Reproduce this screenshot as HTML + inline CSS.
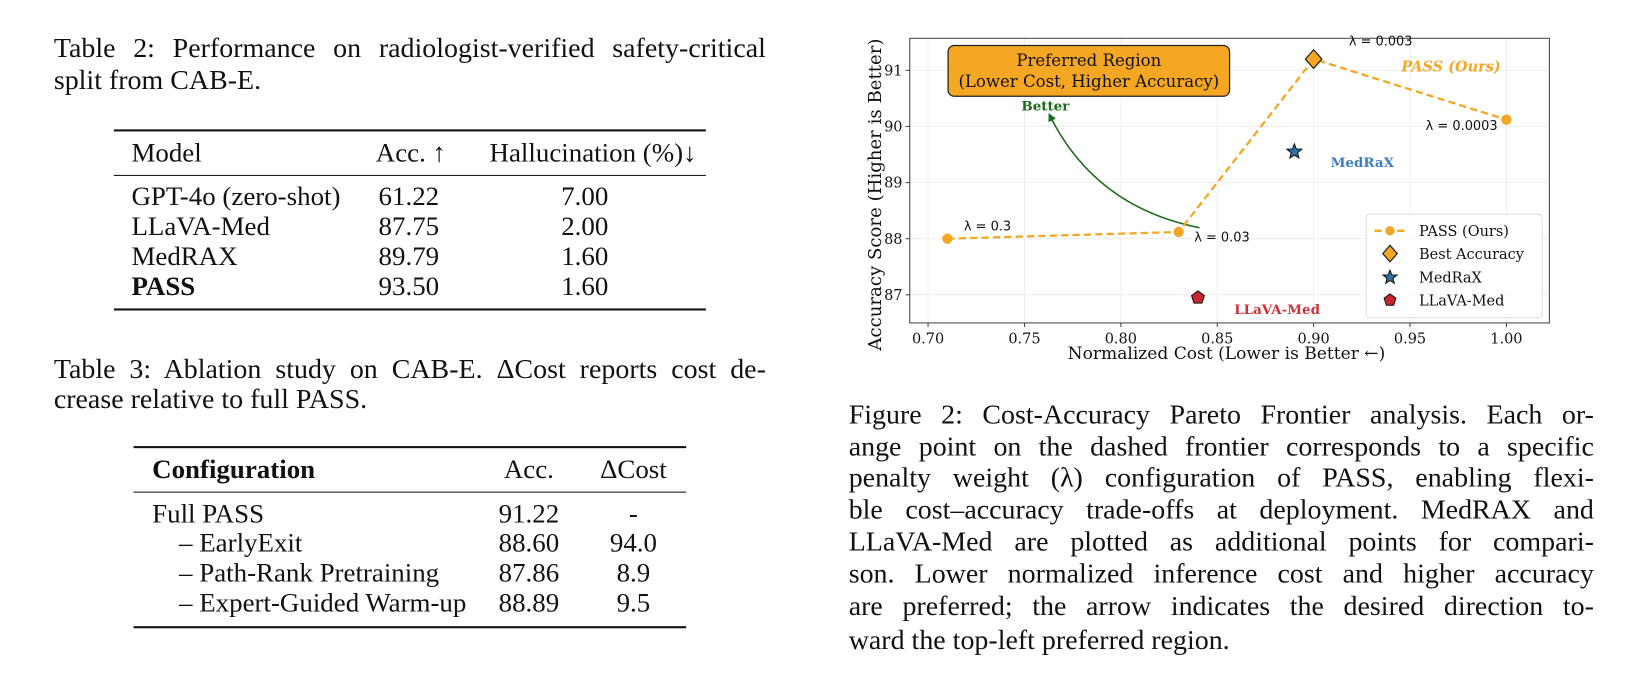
<!DOCTYPE html>
<html><head><meta charset="utf-8">
<style>
html,body{margin:0;padding:0;background:#fff;width:1625px;height:691px;overflow:hidden}
#wrap{position:absolute;left:0;top:0;width:1570px;height:668px;transform:scale(1.035);transform-origin:0 0;font-family:"Liberation Serif",serif;color:#111}
.t{position:absolute;font-size:27px;line-height:30px;white-space:nowrap}
.j{position:absolute;font-size:27px;line-height:30px;text-align:justify;text-align-last:justify;white-space:nowrap}
.rule{position:absolute;background:#111}
.c{position:absolute;font-size:26px;line-height:28px;white-space:nowrap;transform:translateX(-50%)}
.l{position:absolute;font-size:26px;line-height:28px;white-space:nowrap}
svg text{white-space:pre}
</style></head><body>
<div id="wrap">

<div class="j" style="left:52px;top:31px;width:688px">Table 2: Performance on radiologist-verified safety-critical</div>
<div class="t" style="left:52px;top:62px">split from CAB-E.</div>

<div>
<div class="rule" style="left:110px;top:125px;width:572px;height:2px"></div>
<div class="l" style="left:127px;top:134px">Model</div>
<div class="c" style="left:397px;top:134px">Acc. ↑</div>
<div class="c" style="left:573px;top:134px">Hallucination (%)↓</div>
<div class="rule" style="left:110px;top:169px;width:572px;height:1px"></div>
<div class="l" style="left:127px;top:176px">GPT-4o (zero-shot)</div><div class="c" style="left:395px;top:176px">61.22</div><div class="c" style="left:565px;top:176px">7.00</div>
<div class="l" style="left:127px;top:205px">LLaVA-Med</div><div class="c" style="left:395px;top:205px">87.75</div><div class="c" style="left:565px;top:205px">2.00</div>
<div class="l" style="left:127px;top:234px">MedRAX</div><div class="c" style="left:395px;top:234px">89.79</div><div class="c" style="left:565px;top:234px">1.60</div>
<div class="l" style="left:127px;top:263px;font-weight:bold">PASS</div><div class="c" style="left:395px;top:263px">93.50</div><div class="c" style="left:565px;top:263px">1.60</div>
<div class="rule" style="left:110px;top:298px;width:572px;height:2px"></div>
</div>

<div class="j" style="left:52px;top:341px;width:688px">Table 3: Ablation study on CAB-E. ΔCost reports cost de-</div>
<div class="t" style="left:52px;top:370px">crease relative to full PASS.</div>

<div>
<div class="rule" style="left:129px;top:431px;width:534px;height:2px"></div>
<div class="l" style="left:147px;top:440px;font-weight:bold">Configuration</div>
<div class="c" style="left:511px;top:440px">Acc.</div>
<div class="c" style="left:612px;top:440px">ΔCost</div>
<div class="rule" style="left:129px;top:475px;width:534px;height:1px"></div>
<div class="l" style="left:147px;top:483px">Full PASS</div><div class="c" style="left:511px;top:483px">91.22</div><div class="c" style="left:612px;top:483px">-</div>
<div class="l" style="left:173px;top:511px">– EarlyExit</div><div class="c" style="left:511px;top:511px">88.60</div><div class="c" style="left:612px;top:511px">94.0</div>
<div class="l" style="left:173px;top:540px">– Path-Rank Pretraining</div><div class="c" style="left:511px;top:540px">87.86</div><div class="c" style="left:612px;top:540px">8.9</div>
<div class="l" style="left:173px;top:569px">– Expert-Guided Warm-up</div><div class="c" style="left:511px;top:569px">88.89</div><div class="c" style="left:612px;top:569px">9.5</div>
<div class="rule" style="left:129px;top:605px;width:534px;height:2px"></div>
</div>

<div>
<div class="j" style="left:820px;top:385px;width:720px">Figure 2: Cost-Accuracy Pareto Frontier analysis. Each or-</div>
<div class="j" style="left:820px;top:416px;width:720px">ange point on the dashed frontier corresponds to a specific</div>
<div class="j" style="left:820px;top:446px;width:720px">penalty weight (λ) configuration of PASS, enabling flexi-</div>
<div class="j" style="left:820px;top:477px;width:720px">ble cost–accuracy trade-offs at deployment. MedRAX and</div>
<div class="j" style="left:820px;top:508px;width:720px">LLaVA-Med are plotted as additional points for compari-</div>
<div class="j" style="left:820px;top:539px;width:720px">son. Lower normalized inference cost and higher accuracy</div>
<div class="j" style="left:820px;top:570px;width:720px">are preferred; the arrow indicates the desired direction to-</div>
<div class="t" style="left:820px;top:603px">ward the top-left preferred region.</div>
</div>

<svg id="chart" style="position:absolute;left:0;top:0" width="1570" height="668"></svg>
</div>

<script>
const passCost = [0.71, 0.83, 0.90, 1.00];
const passAcc = [88.0, 88.12, 91.2, 90.12];
const passLambda = ["0.3", "0.03", "0.003", "0.0003"];
const medraxPoint = [0.89, 89.55];
const llavaPoint = [0.84, 86.95];
const xTicks = [0.70, 0.75, 0.80, 0.85, 0.90, 0.95, 1.00];
const yTicks = [87, 88, 89, 90, 91];

const NS = "http://www.w3.org/2000/svg";
const svg = document.getElementById('chart');
const L = 879, R = 1497, T = 37, B = 312;
const xMin = 0.6905, xMax = 1.0223, yMin = 86.5, yMax = 91.57;
function xs(v){ return L + (v - xMin) / (xMax - xMin) * (R - L); }
function ys(v){ return B - (v - yMin) / (yMax - yMin) * (B - T); }
function mk(tag, attrs, parent){
  const e = document.createElementNS(NS, tag);
  for (const k in attrs) e.setAttribute(k, attrs[k]);
  (parent || svg).appendChild(e);
  return e;
}
const ORANGE = "#f5a623";
const SERIF = "'DejaVu Serif', 'Liberation Serif', serif";
const SANS = "'DejaVu Sans', 'Liberation Sans', sans-serif";

xTicks.forEach(v => {
  const g = mk('line', {x1: xs(v), x2: xs(v), y1: T, y2: B, stroke: '#ebebeb', 'stroke-width': 0.8});
  
  
});
yTicks.forEach(v => {
  const g = mk('line', {x1: L, x2: R, y1: ys(v), y2: ys(v), stroke: '#ebebeb', 'stroke-width': 0.8});
  
  
});
const fr = mk('rect', {x: L, y: T, width: R - L, height: B - T, fill: 'none', stroke: '#444', 'stroke-width': 1});



xTicks.forEach(v => {
  mk('line', {x1: xs(v), x2: xs(v), y1: B, y2: B + 4, stroke: '#444'});
  const t = mk('text', {x: xs(v), y: B + 20, 'text-anchor': 'middle', 'font-size': 14, 'font-family': SERIF, fill: '#111'});
  t.textContent = v.toFixed(2);
  
  
});
yTicks.forEach(v => {
  mk('line', {x1: L - 4, x2: L, y1: ys(v), y2: ys(v), stroke: '#444'});
  const t = mk('text', {x: L - 7, y: ys(v) + 5, 'text-anchor': 'end', 'font-size': 14, 'font-family': SERIF, fill: '#111'});
  t.textContent = String(v);
  
  
});

const xt = mk('text', {x: (L + R) / 2 - 3, y: 347, 'text-anchor': 'middle', 'font-size': 16.5, 'font-family': SERIF, fill: '#111'});
xt.textContent = "Normalized Cost (Lower is Better ←)";


const yt = mk('text', {x: 0, y: 0, 'text-anchor': 'middle', 'font-size': 17.5, 'font-family': SERIF, fill: '#111', transform: 'translate(851,188) rotate(-90)'});
yt.textContent = "Accuracy Score (Higher is Better)";



const pb = mk('rect', {x: 916, y: 44, width: 272, height: 49, rx: 6, fill: ORANGE, stroke: '#222', 'stroke-width': 1.2});


const pt1 = mk('text', {x: 1052, y: 64, 'text-anchor': 'middle', 'font-size': 16, 'font-family': SERIF, fill: '#111'});
pt1.textContent = "Preferred Region";


const pt2 = mk('text', {x: 1052, y: 84, 'text-anchor': 'middle', 'font-size': 16, 'font-family': SERIF, fill: '#111'});
pt2.textContent = "(Lower Cost, Higher Accuracy)";



const defs = mk('defs', {});
const mkr = mk('marker', {id: 'ah', markerWidth: 8, markerHeight: 8, refX: 6, refY: 4, orient: 'auto', markerUnits: 'userSpaceOnUse'}, defs);
mk('path', {d: 'M0,0 L8,4 L0,8 Z', fill: '#1a6b1a'}, mkr);
const ar = mk('path', {d: 'M1159,220 Q1058,200 1014,111', fill: 'none', stroke: '#1a6b1a', 'stroke-width': 1.5, 'marker-end': 'url(#ah)'});


const bt = mk('text', {x: 1010, y: 107, 'text-anchor': 'middle', 'font-size': 13, 'font-weight': 'bold', 'font-family': SERIF, fill: '#1a6b1a'});
bt.textContent = "Better";



const pts = passCost.map((c, i) => xs(c) + ',' + ys(passAcc[i])).join(' ');
const pl = mk('polyline', {points: pts, fill: 'none', stroke: ORANGE, 'stroke-width': 2.2, 'stroke-dasharray': '7,4'});


let best = 0;
passAcc.forEach((a, i) => { if (a > passAcc[best]) best = i; });
passCost.forEach((c, i) => {
  if (i === best) return;
  const p = mk('circle', {cx: xs(c), cy: ys(passAcc[i]), r: 5, fill: ORANGE});
  
  
});
{
  const cx = xs(passCost[best]), cy = ys(passAcc[best]);
  const d = mk('polygon', {points: `${cx},${cy-9} ${cx+8},${cy} ${cx},${cy+9} ${cx-8},${cy}`, fill: ORANGE, stroke: '#222', 'stroke-width': 1.2});
  
  
}
const lamOff = [[16, -8, 'start'], [15, 9, 'start'], [34, -13, 'start'], [-78, 10, 'start']];
passCost.forEach((c, i) => {
  const t = mk('text', {x: xs(c) + lamOff[i][0], y: ys(passAcc[i]) + lamOff[i][1], 'text-anchor': lamOff[i][2], 'font-size': 12.5, 'font-family': SANS, fill: '#111'});
  t.textContent = "λ = " + passLambda[i];
  
  
});
const po = mk('text', {x: 1402, y: 69, 'text-anchor': 'middle', 'font-size': 14, 'font-weight': 'bold', 'font-style': 'italic', 'font-family': SERIF, fill: ORANGE});
po.textContent = "PASS (Ours)";



function starPts(cx, cy, ro, ri){
  const a = [];
  for (let k = 0; k < 10; k++){
    const r = k % 2 ? ri : ro, ang = -Math.PI/2 + k * Math.PI/5;
    a.push((cx + r*Math.cos(ang)).toFixed(1) + ',' + (cy + r*Math.sin(ang)).toFixed(1));
  }
  return a.join(' ');
}
function pentPts(cx, cy, r){
  const a = [];
  for (let k = 0; k < 5; k++){
    const ang = -Math.PI/2 + k * 2*Math.PI/5;
    a.push((cx + r*Math.cos(ang)).toFixed(1) + ',' + (cy + r*Math.sin(ang)).toFixed(1));
  }
  return a.join(' ');
}
const st = mk('polygon', {points: starPts(xs(medraxPoint[0]), ys(medraxPoint[1]), 7.5, 3.2), fill: '#2f6fa8', stroke: '#111', 'stroke-width': 1});


const mt = mk('text', {x: xs(medraxPoint[0]) + 35, y: ys(medraxPoint[1]) + 15, 'font-size': 13, 'font-weight': 'bold', 'font-family': SERIF, fill: '#3a7fc0'});
mt.textContent = "MedRaX";


const pg = mk('polygon', {points: pentPts(xs(llavaPoint[0]), ys(llavaPoint[1]), 6.5), fill: '#c8262c', stroke: '#111', 'stroke-width': 1});


const lt = mk('text', {x: xs(llavaPoint[0]) + 35, y: ys(llavaPoint[1]) + 16, 'font-size': 13, 'font-weight': 'bold', 'font-family': SERIF, fill: '#d03038'});
lt.textContent = "LLaVA-Med";



const lg = mk('g', {});


mk('rect', {x: 1320, y: 207, width: 170, height: 100, rx: 3, fill: '#fff', 'fill-opacity': 0.85, stroke: '#ddd'}, lg);
const legY = [223, 245, 268, 290];
const legLabels = ["PASS (Ours)", "Best Accuracy", "MedRaX", "LLaVA-Med"];
mk('line', {x1: 1328, x2: 1358, y1: legY[0], y2: legY[0], stroke: ORANGE, 'stroke-width': 2.2, 'stroke-dasharray': '7,4'}, lg);
mk('circle', {cx: 1343, cy: legY[0], r: 4.5, fill: ORANGE}, lg);
mk('polygon', {points: `1343,${legY[1]-8} 1350,${legY[1]} 1343,${legY[1]+8} 1336,${legY[1]}`, fill: ORANGE, stroke: '#222', 'stroke-width': 1.2}, lg);
mk('polygon', {points: starPts(1343, legY[2], 7, 3), fill: '#2f6fa8', stroke: '#111', 'stroke-width': 1}, lg);
mk('polygon', {points: pentPts(1343, legY[3], 6), fill: '#c8262c', stroke: '#111', 'stroke-width': 1}, lg);
legLabels.forEach((s, i) => {
  const t = mk('text', {x: 1371, y: legY[i] + 5, 'font-size': 14, 'font-family': SERIF, fill: '#111'}, lg);
  t.textContent = s;
  
  
});
</script>
</body></html>
